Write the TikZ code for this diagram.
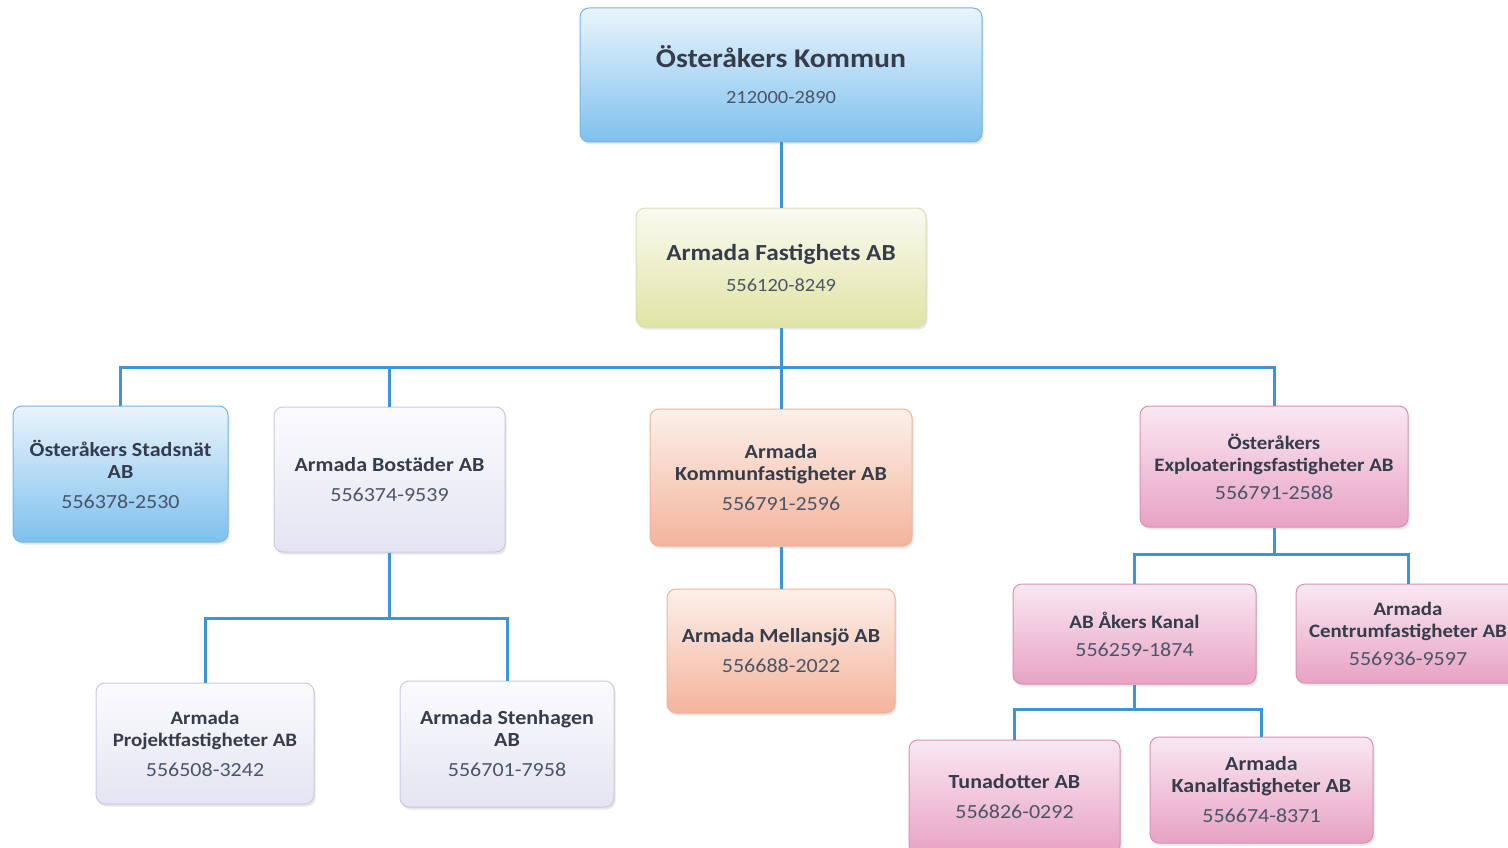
\documentclass[tikz,border=0pt]{standalone}
\usepackage{fontspec}
\setmainfont{Carlito}[FakeStretch=1.1]
\usetikzlibrary{shadows}
\definecolor{conncol}{HTML}{3D95D8}
\definecolor{titcol}{HTML}{353C4B}
\definecolor{numcol}{HTML}{4A5568}
\newcommand\mytitle{\fontsize{20}{22}\selectfont\bfseries}
\newcommand\mysmtitle{\fontsize{19}{22}\selectfont\bfseries}
\newcommand\mynum{\fontsize{20}{22}\selectfont}
\tikzset{
  box/.style={rounded corners=9pt, line width=1pt, align=center, text=titcol,
    font=\fontsize{19}{22}\selectfont, inner sep=2pt,
    drop shadow={opacity=0.18, shadow xshift=1.5pt, shadow yshift=-2.5pt}},
  bluebox/.style={box, draw=HTMLblueb, top color=HTMLbluet, bottom color=HTMLblueo},
  yelbox/.style={box, draw=HTMLyelb, top color=HTMLyelt, bottom color=HTMLyelo},
  lavbox/.style={box, draw=HTMLlavb, top color=HTMLlavt, bottom color=HTMLlavo},
  pchbox/.style={box, draw=HTMLpchb, top color=HTMLpcht, bottom color=HTMLpcho},
  pnkbox/.style={box, draw=HTMLpnkb, top color=HTMLpnkt, bottom color=HTMLpnko},
  conn/.style={draw=conncol, line width=3pt}
}
\definecolor{HTMLblueb}{HTML}{74B6E6}
\definecolor{HTMLbluet}{HTML}{EAF4FC}
\definecolor{HTMLblueo}{HTML}{7EC1EE}
\definecolor{HTMLyelb}{HTML}{DADDB4}
\definecolor{HTMLyelt}{HTML}{FAFAF2}
\definecolor{HTMLyelo}{HTML}{E0E4A4}
\definecolor{HTMLlavb}{HTML}{C8C9E2}
\definecolor{HTMLlavt}{HTML}{FBFBFE}
\definecolor{HTMLlavo}{HTML}{E4E4F3}
\definecolor{HTMLpchb}{HTML}{F0B39C}
\definecolor{HTMLpcht}{HTML}{FCF0EA}
\definecolor{HTMLpcho}{HTML}{F4B49C}
\definecolor{HTMLpnkb}{HTML}{D98FB5}
\definecolor{HTMLpnkt}{HTML}{F9E8F1}
\definecolor{HTMLpnko}{HTML}{E8A2C4}
\begin{document}
\begin{tikzpicture}[x=1pt,y=-1pt]
\useasboundingbox[fill=white] (0,0) rectangle (1508,848);
% level 0/1
\node[bluebox, minimum width=402pt, minimum height=134pt] (kom) at (781,75)
  {{\fontsize{27}{30}\selectfont\bfseries Österåkers Kommun}\\[14pt]{\fontsize{18.6}{22}\selectfont\color{numcol}212000-2890}};
\node[yelbox, minimum width=290pt, minimum height=119pt] (fas) at (781,267.5)
  {{\fontsize{23}{26}\selectfont\bfseries Armada Fastighets AB}\\[9pt]{\fontsize{18.6}{22}\selectfont\color{numcol}556120-8249}};
% level 2
\node[bluebox, minimum width=215pt, minimum height=136pt] (sta) at (120.5,474)
  {{\mytitle Österåkers Stadsnät}\\{\mytitle AB}\\[8pt]{\mynum\color{numcol}556378-2530}};
\node[lavbox, minimum width=231pt, minimum height=145pt] (bos) at (389.5,479.5)
  {{\mytitle Armada Bostäder AB}\\[8pt]{\mynum\color{numcol}556374-9539}};
\node[pchbox, minimum width=262pt, minimum height=137pt] (kfa) at (781,477.5)
  {{\mytitle Armada}\\{\mytitle Kommunfastigheter AB}\\[8pt]{\mynum\color{numcol}556791-2596}};
\node[pnkbox, minimum width=268pt, minimum height=121pt] (exp) at (1274,466.5)
  {{\mysmtitle Österåkers}\\{\mysmtitle Exploateringsfastigheter AB}\\[6pt]{\mynum\color{numcol}556791-2588}};
% level 3
\node[lavbox, minimum width=218pt, minimum height=121pt] (pro) at (205,743.5)
  {{\mysmtitle Armada}\\{\mysmtitle Projektfastigheter AB}\\[8pt]{\mynum\color{numcol}556508-3242}};
\node[lavbox, minimum width=214pt, minimum height=126pt] (ste) at (507,744)
  {{\mytitle Armada Stenhagen}\\{\mytitle AB}\\[8pt]{\mynum\color{numcol}556701-7958}};
\node[pchbox, minimum width=228pt, minimum height=124pt] (mel) at (781,651)
  {{\mytitle Armada Mellansjö AB}\\[8pt]{\mynum\color{numcol}556688-2022}};
\node[pnkbox, minimum width=243pt, minimum height=100pt] (ake) at (1134.5,634)
  {{\mysmtitle AB Åkers Kanal}\\[6pt]{\mynum\color{numcol}556259-1874}};
\node[pnkbox, minimum width=224pt, minimum height=99pt] (cen) at (1408,633.5)
  {{\mysmtitle Armada}\\{\mysmtitle Centrumfastigheter AB}\\[6pt]{\mynum\color{numcol}556936-9597}};
% level 4
\node[pnkbox, minimum width=211pt, minimum height=114pt] (tun) at (1014.5,797)
  {{\mytitle Tunadotter AB}\\[8pt]{\mynum\color{numcol}556826-0292}};
\node[pnkbox, minimum width=223pt, minimum height=106pt] (kan) at (1261.5,790)
  {{\mytitle Armada}\\{\mytitle Kanalfastigheter AB}\\[8pt]{\mynum\color{numcol}556674-8371}};
% connectors
\draw[conn] (kom.south) -- (fas.north);
\draw[conn] (fas.south) -- ++(0,40) coordinate (j1);
\draw[conn] (sta.north) |- (j1);
\draw[conn] (bos.north) |- (j1);
\draw[conn] (kfa.north) -- (j1);
\draw[conn] (exp.north) |- (j1);
\draw[conn] (bos.south) -- ++(0,66) coordinate (j2);
\draw[conn] (pro.north) |- (j2);
\draw[conn] (ste.north) |- (j2);
\draw[conn] (kfa.south) -- (mel.north);
\draw[conn] (exp.south) -- ++(0,27) coordinate (j3);
\draw[conn] (ake.north) |- (j3);
\draw[conn] (cen.north) |- (j3);
\draw[conn] (ake.south) -- ++(0,25) coordinate (j4);
\draw[conn] (tun.north) |- (j4);
\draw[conn] (kan.north) |- (j4);
\end{tikzpicture}
\end{document}
